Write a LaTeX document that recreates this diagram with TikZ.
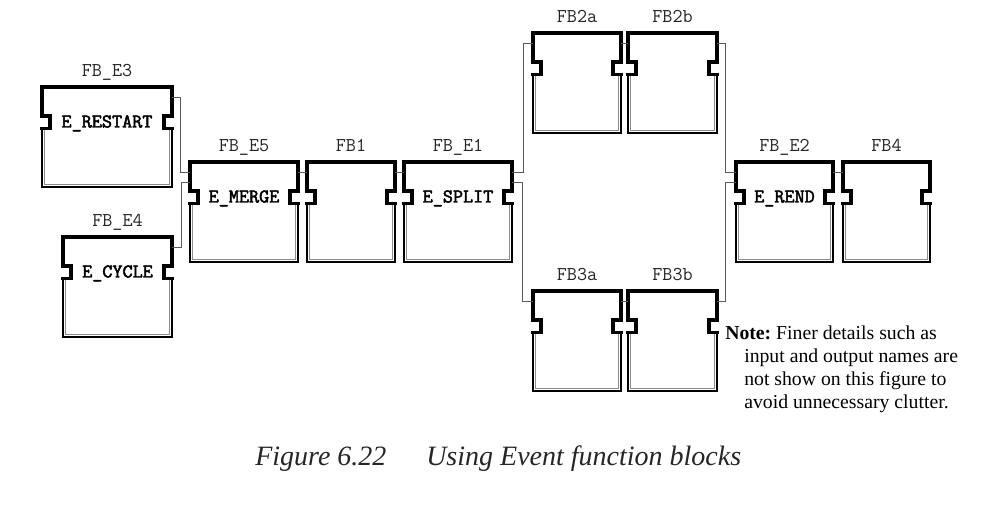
\documentclass[tikz,border=0pt]{standalone}
\usepackage{fontspec}
\setmainfont{Liberation Serif}
\newfontfamily\monobold[FakeBold=2.5]{Latin Modern Mono}
\tikzset{
  x=0.75pt, y=-0.75pt,
  fbnode/.style={rectangle, draw=none, inner sep=0pt, minimum height=75pt},
  headln/.style={line width=2.4pt, black, line join=miter, line cap=rect},
  bodyln/.style={line width=1.1pt, black},
  bodyin/.style={line width=0.7pt, black!45},
  fblabel/.style={anchor=base, inner sep=0pt, black!85, font=\ttfamily\fontsize{14.7}{16}\selectfont},
  fbinner/.style={anchor=base, inner sep=0pt, font=\monobold\fontsize{14.7}{16}\selectfont},
  wire/.style={line width=0.6pt, black!65},
  notetxt/.style={anchor=base west, inner sep=0pt, font=\fontsize{14.8}{17.25}\selectfont},
  captxt/.style={anchor=base west, inner sep=0pt, font=\itshape\fontsize{21}{24}\selectfont, black!85}
}
\newcommand{\fbk}[6]{%
  \node[fbnode, minimum width=#4*0.75pt, anchor=north west] (#1) at (#2,#3) {};
  \begin{scope}[shift={(#1.north west)}]
    \draw[bodyln] (#4,41.5) -- (#4,100) -- (0,100) -- (0,41.5);
    \draw[bodyin] (#4-2.5,41.5) -- (#4-2.5,97.5) -- (2.5,97.5) -- (2.5,41.5);
    \draw[headln] (0,41.5) -- (8,41.5) -- (8,29) -- (0,29) -- (0,0) -- (#4,0) -- (#4,29) -- (#4-8,29) -- (#4-8,41.5) -- (#4,41.5);
    \coordinate (#1-i1) at (0,10);
    \coordinate (#1-i2) at (0,20);
    \coordinate (#1-o1) at (#4,10);
    \coordinate (#1-o2) at (#4,20);
    \node[fblabel] (#1-name) at (#4/2,-10) {#5};
    \node[fbinner] (#1-inner) at (#4/2,40.5) {#6};
  \end{scope}
}
\begin{document}
\begin{tikzpicture}
\useasboundingbox (0,0) rectangle (1006,513);
\fill[white] (0,0) rectangle (1006,513);

\fbk{e3}{42}{87}{130}{FB\_E3}{E\_RESTART}
\fbk{e4}{63}{237}{109}{FB\_E4}{E\_CYCLE}
\fbk{e5}{190}{162}{108}{FB\_E5}{E\_MERGE}
\fbk{fb1}{307}{162}{88}{FB1}{}
\fbk{e1}{404}{162}{108}{FB\_E1}{E\_SPLIT}
\fbk{fb2a}{533}{33}{88}{FB2a}{}
\fbk{fb2b}{628}{33}{89}{FB2b}{}
\fbk{fb3a}{533}{291}{88}{FB3a}{}
\fbk{fb3b}{628}{291}{89}{FB3b}{}
\fbk{e2}{736}{162}{97}{FB\_E2}{E\_REND}
\fbk{fb4}{843}{162}{87}{FB4}{}

\draw[wire] (e3-o1) -- ++(8,0) |- (e5-i1);
\draw[wire] (e4-o1) -- ++(9,0) |- (e5-i2);
\draw[wire] (e5-o1) -- (fb1-i1);
\draw[wire] (fb1-o1) -- (e1-i1);
\draw[wire] (e1-o1) -- ++(11,0) |- (fb2a-i1);
\draw[wire] (e1-o2) -- ++(10,0) |- (fb3a-i1);
\draw[wire] (fb2a-o1) -- (fb2b-i1);
\draw[wire] (fb3a-o1) -- (fb3b-i1);
\draw[wire] (fb2b-o1) -- ++(8,0) |- (e2-i1);
\draw[wire] (fb3b-o1) -- ++(8,0) |- (e2-i2);
\draw[wire] (e2-o1) -- (fb4-i1);

\node[notetxt] (note1) at (725,339) {\textbf{Note:}\ Finer details such as};
\node[notetxt] (note2) at (744,362) {input and output names are};
\node[notetxt] (note3) at (744,385) {not show on this figure to};
\node[notetxt] (note4) at (744,408) {avoid unnecessary clutter.};

\node[captxt] (cap1) at (255,465) {Figure 6.22};
\node[captxt] (cap2) at (426,465) {Using Event function blocks};
\end{tikzpicture}
\end{document}
